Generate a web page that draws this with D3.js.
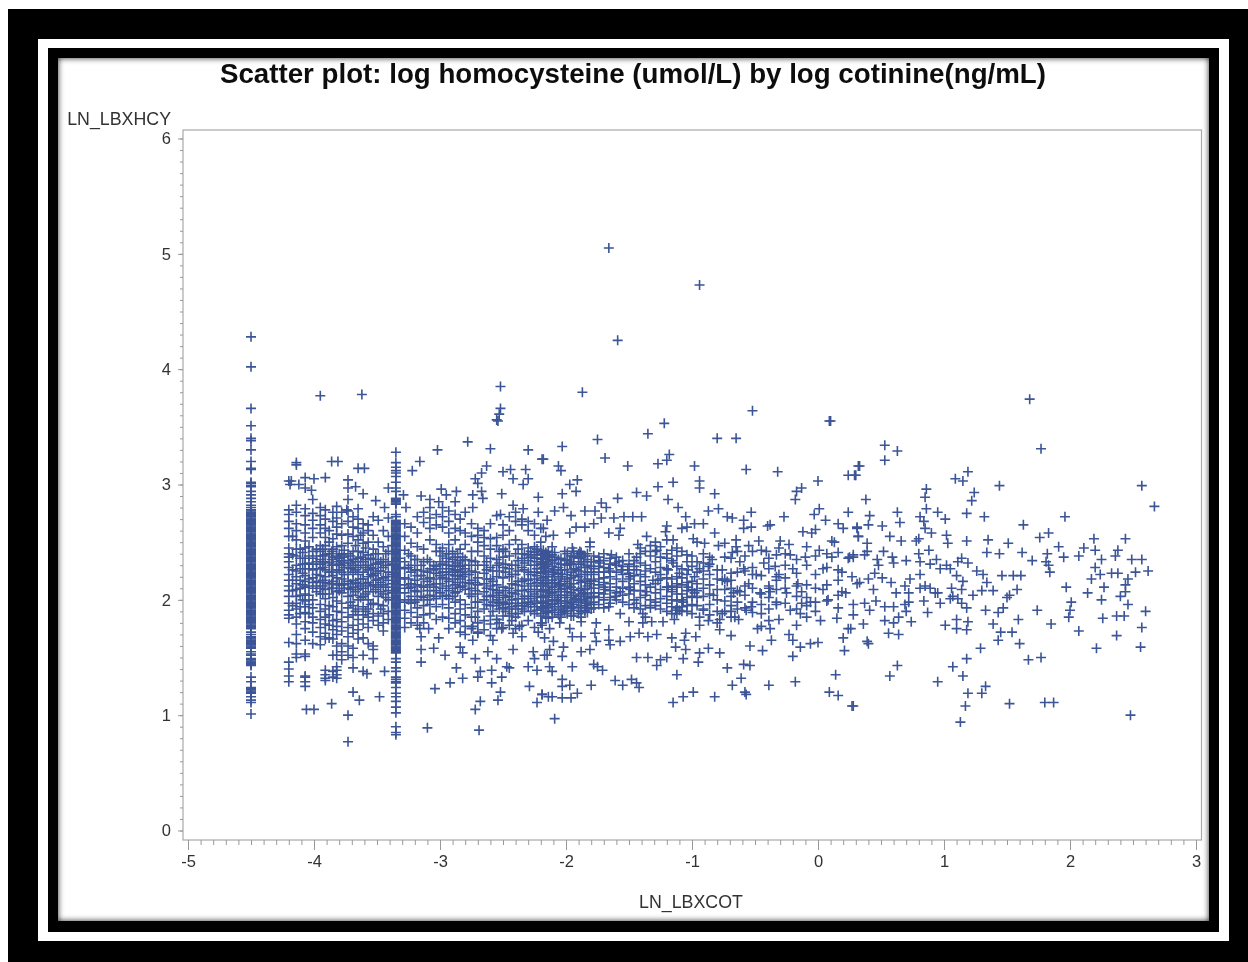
<!DOCTYPE html>
<html>
<head>
<meta charset="utf-8">
<script src="https://cdn.jsdelivr.net/npm/d3@7"></script>
<style>
  body { margin: 0; background: #fff; }
  svg { display: block; }
  text { font-family: "Liberation Sans", Arial, sans-serif; }
</style>
</head>
<body>
<div id="scatter"></div>
<script>
// chart text
var chartTitle = "Scatter plot: log homocysteine (umol/L) by log cotinine(ng/mL)";
var xLabel = "LN_LBXCOT";
var yLabel = "LN_LBXHCY";
var xTicks = [-5, -4, -3, -2, -1, 0, 1, 2, 3];
var yTicks = [0, 1, 2, 3, 4, 5, 6];

// the two columns of non detects
var stripOneX = -4.5;
var stripOneY = [4.28,4.02,3.66,3.51,3.40,3.38,3.30,3.20,3.14,3.13,3.02,3.01,2.99,2.98,2.94,2.91,2.88,2.85,2.82,2.80,2.78,
  2.77,2.76,2.75,2.74,2.73,2.72,2.71,2.70,2.69,2.68,2.67,2.66,2.65,2.64,2.63,2.62,2.61,2.60,2.59,2.58,2.57,2.56,2.55,2.54,2.53,2.52,2.51,2.50,
  2.49,2.48,2.47,2.46,2.45,2.44,2.43,2.42,2.41,2.40,2.39,2.38,2.37,2.36,2.35,2.34,2.33,2.32,2.31,2.30,2.29,2.28,2.27,2.26,2.25,2.24,2.23,2.22,
  2.21,2.20,2.19,2.18,2.17,2.16,2.15,2.14,2.13,2.12,2.11,2.10,2.09,2.08,2.07,2.06,2.05,2.04,2.03,2.02,2.01,2.00,1.99,1.98,1.97,1.96,1.95,1.94,
  1.93,1.92,1.91,1.90,1.89,1.88,1.87,1.86,1.85,1.84,1.83,1.82,1.81,1.80,1.79,1.78,1.77,1.76,1.75,1.72,1.70,1.68,1.67,1.66,1.65,1.64,1.63,1.62,
  1.61,1.60,1.59,1.58,1.55,1.53,1.52,1.49,1.48,1.47,1.46,1.45,1.44,1.43,1.33,1.29,1.24,1.23,1.22,1.21,1.20,1.19,1.16,1.13,1.11,1.01];

var stripTwoX = -3.35;
var stripTwoY = [3.28,3.19,3.15,3.12,3.10,3.07,3.02,2.97,2.94,2.88,2.87,2.86,2.85,2.84,2.83,2.74,2.72,
  2.69,2.68,2.67,2.66,2.65,2.64,2.63,2.62,2.61,2.60,2.59,2.58,2.57,2.56,2.55,2.54,2.53,2.52,2.51,2.50,2.49,2.48,2.47,2.46,2.45,2.44,2.43,2.42,
  2.41,2.40,2.39,2.38,2.37,2.36,2.35,2.34,2.33,2.32,2.31,2.30,2.29,2.28,2.27,2.26,2.25,2.24,2.23,2.22,2.21,2.20,2.19,2.18,2.17,2.16,2.15,2.14,
  2.13,2.12,2.11,2.10,2.09,2.08,2.07,2.06,2.05,2.04,2.03,2.02,2.01,2.00,1.99,1.98,1.97,1.96,1.95,1.94,1.93,1.92,1.91,1.90,1.89,1.88,1.87,1.86,
  1.85,1.84,1.83,1.82,1.81,1.80,1.79,1.78,1.77,1.76,1.75,1.74,1.73,1.72,1.71,1.70,1.69,1.68,1.67,1.66,1.65,1.64,1.63,1.62,1.61,1.60,1.59,1.58,
  1.57,1.56,1.55,1.54,1.49,1.46,1.41,1.38,1.33,1.31,1.29,1.28,1.24,1.19,1.16,1.12,1.07,1.02,0.90,0.85,0.83];

// dense part of the cloud, one x value with the y values seen near it
var denseX = [-4.20,-4.17,-4.14,-4.07,-4.04,-4.01,-3.95,-3.91,-3.88,-3.85,-3.82,-3.78,-3.73,-3.69,-3.65,-3.61,-3.57,-3.53,-3.49,-3.45,-3.41,
  -3.28,-3.23,-3.18,-3.13,-3.08,-3.03,-2.98,-2.93,-2.88,-2.84,-2.80,-2.75,-2.70,-2.65,-2.60,-2.55,-2.50,-2.45,-2.40,-2.35,-2.30,-2.25,-2.20,-2.16,
  -2.11,-2.06,-2.01,-1.96,-1.90,-1.85,-1.80];
var denseY = [
  [3.03,2.78,2.74,2.68,2.62,2.55,2.45,2.40,2.37,2.33,2.28,2.22,2.17,2.12,2.08,2.03,1.97,1.91,1.87,1.84,1.63,1.46,1.40,1.34,1.29],
  [2.55,2.39,2.26,2.17,2.08,1.95],
  [2.82,2.76,2.66,2.60,2.52,2.44,2.38,2.30,2.25,2.20,2.14,2.09,2.03,1.97,1.92,1.85,1.79,1.70,1.62,1.53],
  [3.06,2.79,2.73,2.65,2.58,2.51,2.45,2.36,2.31,2.27,2.21,2.16,2.11,2.05,1.99,1.94,1.89,1.81,1.75,1.65,1.53,1.34,1.29],
  [2.46,2.38,2.32,2.27,2.18,2.12,2.04,1.96,1.88],
  [2.87,2.75,2.69,2.62,2.54,2.42,2.36,2.31,2.26,2.19,2.15,2.10,2.00,1.93,1.85,1.80,1.72,1.62],
  [2.80,2.73,2.65,2.58,2.47,2.42,2.35,2.31,2.27,2.21,2.15,2.10,2.05,1.96,1.90,1.83,1.76,1.68,1.61],
  [2.78,2.70,2.62,2.54,2.47,2.39,2.33,2.26,2.20,2.15,2.09,2.01,1.92,1.85,1.79,1.71,1.66,1.35,1.32],
  [2.60,2.50,2.40,2.32,2.24,2.14,2.05,1.95,1.87,1.78,1.67],
  [2.76,2.68,2.53,2.44,2.37,2.30,2.21,2.16,2.10,2.02,1.94,1.82,1.74,1.66,1.52,1.38,1.33],
  [2.81,2.71,2.63,2.57,2.46,2.38,2.33,2.26,2.19,2.14,2.07,1.99,1.90,1.83,1.77,1.70,1.60,1.52,1.42,1.35],
  [2.76,2.66,2.56,2.47,2.39,2.34,2.30,2.24,2.18,2.13,2.06,1.97,1.89,1.81,1.73,1.62,1.55,1.48],
  [2.87,2.77,2.68,2.57,2.49,2.40,2.34,2.28,2.22,2.16,2.10,2.03,1.93,1.85,1.76,1.68,1.60,1.52],
  [2.72,2.63,2.55,2.42,2.35,2.30,2.24,2.17,2.11,2.04,1.95,1.87,1.78,1.71,1.58,1.50],
  [2.79,2.70,2.62,2.52,2.42,2.36,2.28,2.22,2.14,2.09,2.00,1.92,1.83,1.74,1.66],
  [2.66,2.58,2.49,2.41,2.33,2.24,2.18,2.10,2.03,1.94,1.87,1.79,1.67,1.52,1.38],
  [2.65,2.60,2.50,2.39,2.30,2.26,2.20,2.15,2.07,2.00,1.92,1.85,1.76,1.62],
  [2.72,2.56,2.44,2.35,2.27,2.21,2.13,2.07,1.97,1.88,1.82,1.60,1.57],
  [2.69,2.50,2.40,2.32,2.25,2.18,2.11,2.03,1.96,1.86,1.78],
  [2.60,2.46,2.35,2.28,2.19,2.13,2.05,1.95,1.88,1.80,1.73],
  [2.97,2.71,2.55,2.42,2.33,2.24,2.17,2.08,2.00,1.90,1.83],
  [2.66,2.55,2.43,2.33,2.27,2.19,2.13,2.06,1.98,1.91,1.84,1.76],
  [2.63,2.49,2.38,2.30,2.24,2.14,2.11,2.03,1.97,1.89,1.80],
  [2.72,2.58,2.46,2.35,2.26,2.21,2.13,2.07,2.00,1.93,1.85,1.78],
  [2.76,2.67,2.44,2.33,2.25,2.18,2.11,2.02,1.95,1.87,1.80],
  [2.80,2.71,2.62,2.52,2.33,2.27,2.19,2.13,2.04,1.96,1.88],
  [2.74,2.65,2.48,2.42,2.29,2.23,2.14,2.08,2.01,1.94,1.83],
  [2.80,2.72,2.63,2.45,2.38,2.31,2.24,2.19,2.10,2.03,1.96,1.85],
  [2.77,2.68,2.58,2.48,2.40,2.33,2.27,2.22,2.16,2.08,2.01,1.93,1.84,1.75],
  [2.74,2.62,2.52,2.37,2.30,2.26,2.21,2.13,2.06,1.98,1.88,1.80],
  [2.70,2.60,2.44,2.34,2.29,2.24,2.18,2.11,2.00,1.92,1.82,1.72],
  [2.76,2.58,2.48,2.35,2.27,2.22,2.15,2.09,1.96,1.87,1.77,1.70],
  [2.66,2.55,2.42,2.34,2.25,2.17,2.10,2.03,1.93,1.85,1.75],
  [2.62,2.56,2.50,2.42,2.30,2.19,2.13,2.05,1.98,1.90,1.80,1.72],
  [2.60,2.54,2.47,2.38,2.30,2.23,2.14,2.07,2.00,1.92,1.82,1.74],
  [2.66,2.53,2.44,2.36,2.28,2.18,2.12,2.03,1.95,1.86,1.79,1.69],
  [2.73,2.54,2.47,2.35,2.30,2.20,2.13,2.08,2.00,1.95,1.83,1.75],
  [2.65,2.56,2.44,2.37,2.28,2.19,2.11,2.04,1.98,1.93,1.86,1.76],
  [2.72,2.60,2.48,2.38,2.27,2.20,2.10,2.03,1.97,1.92,1.86,1.78],
  [2.76,2.68,2.52,2.40,2.30,2.22,2.13,2.05,1.97,1.92,1.85,1.75],
  [2.70,2.65,2.48,2.40,2.36,2.28,2.16,2.08,2.01,1.95,1.92,1.78],
  [2.68,2.60,2.45,2.39,2.34,2.24,2.17,2.09,2.03,1.98,1.94,1.82],
  [2.66,2.56,2.46,2.41,2.36,2.30,2.24,2.18,2.12,2.05,1.99,1.94,1.88,1.76],
  [2.62,2.50,2.42,2.39,2.35,2.31,2.27,2.23,2.17,2.12,2.07,2.02,1.97,1.92,1.86,1.80],
  [2.55,2.41,2.37,2.33,2.29,2.25,2.20,2.15,2.09,2.04,1.99,1.95,1.90,1.85],
  [2.46,2.39,2.34,2.29,2.22,2.17,2.11,2.06,2.00,1.96,1.91,1.85],
  [2.35,2.28,2.23,2.18,2.12,2.07,2.02,1.97,1.92,1.87],
  [2.42,2.34,2.26,2.16,2.10,2.04,1.99,1.95,1.90],
  [2.38,2.31,2.24,2.19,2.11,2.06,2.02,1.98,1.93,1.86],
  [2.40,2.36,2.31,2.25,2.17,2.08,2.03,1.98,1.93,1.88],
  [2.38,2.28,2.22,2.16,2.09,2.03,1.99,1.95,1.91],
  [2.33,2.24,2.17,2.10,2.02,1.96,1.92]
];

// second pass over the dark band of the cloud, left to right
var bandX = [-4.11,-4.09,-3.98,-3.93,-3.86,-3.80,-3.76,-3.71,-3.67,-3.63,-3.59,-3.55,-3.51,-3.47,-3.43,-3.38,-3.32,-3.25,-3.20,-3.15,-3.10,-3.05,
  -3.00,-2.95,-2.90,-2.86,-2.82,-2.77,-2.72,-2.63,-2.58,-2.53,-2.48,-2.43,-2.38,-2.33,-2.28,-2.23];
var bandY = [
  [2.44,2.36,2.27,2.17,2.10,2.04,1.94,1.88],[2.41,2.31,2.23,2.13,2.00],[2.44,2.38,2.33,2.27,2.22,2.16,2.12,2.07],[2.44,2.38,2.33,2.28,2.17,2.12,2.05],
  [2.42,2.35,2.30,2.24,2.14,2.10],[2.40,2.36,2.31,2.26,2.13,2.08],[2.43,2.37,2.32,2.28,2.22,2.14,2.10],[2.38,2.32,2.27,2.14,2.09,1.98],
  [2.47,2.33,2.26,2.15,2.07,1.90],[2.56,2.37,2.30,2.18,2.12,2.02],[2.45,2.35,2.28,2.14,2.05,1.90],[2.36,2.28,2.22,2.12,1.96],
  [2.40,2.31,2.23,2.17,2.09],[2.33,2.25,2.15,2.07,1.92],[2.40,2.30,2.20,2.11,2.02],[2.47,2.31,2.22,2.14,2.06],[2.36,2.28,2.18,2.10,2.00],
  [2.40,2.28,2.18,2.10,2.00],[2.35,2.26,2.17,2.08,1.98],[2.30,2.21,2.12,2.03],[2.35,2.24,2.16,2.08,2.00],[2.30,2.26,2.18,2.11,2.03],
  [2.42,2.33,2.27,2.21,2.14,2.06],[2.40,2.36,2.30,2.24,2.18,2.12,2.04],[2.42,2.35,2.29,2.24,2.18,2.10,2.03],[2.40,2.32,2.26,2.21,2.15,2.07],
  [2.37,2.30,2.24,2.20,2.12],[2.30,2.22,2.14,2.05],[2.33,2.24,2.15,2.08,1.98,1.85],[2.33,2.26,2.18,2.10,2.03,1.96],[2.25,2.16,2.09,2.04,1.98,1.90],
  [2.42,2.32,2.25,2.06,2.02,1.97,1.92,1.80],[2.42,2.31,2.24,2.08,2.02,1.96,1.90],[2.30,2.22,2.14,2.06,2.00,1.94,1.88,1.82],
  [2.44,2.34,2.25,2.16,2.08,2.01,1.95,1.88],[2.40,2.32,2.26,2.18,2.12,2.03,1.97,1.90],[2.42,2.37,2.30,2.22,2.14,2.07,2.01,1.96,1.90],
  [2.44,2.39,2.33,2.27,2.21,2.15,2.09,2.03,1.97,1.91]
];

// same again for the middle, where the band thins out towards x = 0
var coreX = [-2.18,-2.14,-2.09,-2.04,-1.99,-1.94,-1.88,-1.83,-1.78,-1.74,-1.70,-1.65,-1.60,-1.55,-1.50,-1.46,-1.41,-1.37,-1.33,-1.29,-1.25,-1.20,-1.16,-1.12,
  -1.08,-1.04,-1.00,-0.96,-0.91,-0.86,-0.80,-0.74,-0.69,-0.64,-0.58,-0.52,-0.45,-0.39,-0.33,-0.26,-0.17,-0.09,-0.02,0.07,0.16];
var coreY = [
  [2.43,2.40,2.36,2.32,2.28,2.24,2.19,2.14,2.08,2.03,1.98,1.93,1.88],[2.42,2.38,2.35,2.31,2.27,2.22,2.17,2.12,2.07,2.02,1.97,1.93,1.89,1.84],
  [2.41,2.37,2.32,2.26,2.20,2.15,2.09,2.04,1.99,1.94,1.89],[2.36,2.31,2.26,2.20,2.14,2.09,2.04,1.99,1.94,1.89,1.85],
  [2.40,2.35,2.30,2.22,2.18,2.12,2.07,2.02,1.97,1.93,1.88],[2.42,2.38,2.33,2.27,2.21,2.14,2.09,2.04,2.00,1.96,1.91,1.86],
  [2.41,2.37,2.33,2.28,2.22,2.15,2.10,2.05,2.00,1.95,1.90,1.85],[2.40,2.35,2.30,2.24,2.18,2.12,2.05,2.01,1.97,1.93,1.89],
  [2.38,2.33,2.27,2.22,2.16,2.10,2.03,1.98,1.93],[2.34,2.29,2.24,2.18,2.13,2.06,2.02,1.96],[2.40,2.34,2.28,2.24,2.15,2.11,2.05,2.00,1.93],
  [2.36,2.31,2.25,2.20,2.14,2.08,2.02,1.97],[2.37,2.30,2.24,2.18,2.11,2.06,2.00],[2.34,2.29,2.22,2.16,2.10,2.04,1.98],[2.40,2.31,2.23,2.18,2.11,2.05,1.96],
  [2.34,2.29,2.21,2.14,2.08,2.00,1.93],[2.45,2.32,2.22,2.16,2.08,2.02,1.92],[2.42,2.30,2.25,2.13,2.04,1.95,1.85],[2.47,2.38,2.27,2.11,2.00,1.93],
  [2.50,2.42,2.33,2.24,2.14,2.06,1.95],[2.46,2.37,2.28,2.18,2.09,2.01,1.92],[2.52,2.36,2.27,2.19,2.11,2.03,1.97,1.90],[2.43,2.34,2.18,2.12,2.07,2.00,1.94,1.88],
  [2.38,2.29,2.20,2.11,2.05,1.99,1.93,1.88],[2.42,2.27,2.19,2.13,2.05,2.00,1.94,1.90],[2.33,2.22,2.15,2.08,2.02,1.95,1.90],[2.38,2.29,2.16,2.09,2.03,1.96,1.88],
  [2.33,2.24,2.14,2.08,2.02,1.95],[2.40,2.25,2.18,2.10,2.03,1.92],[2.31,2.22,2.13,2.05,1.96,1.87],[2.26,2.18,2.09,2.00,1.90,1.80],[2.37,2.18,2.09,1.99,1.90],
  [2.36,2.17,2.10,2.03,1.95,1.85],[2.42,2.24,2.08,1.98,1.92],[2.38,2.25,2.12,2.04,1.93],[2.42,2.28,2.22,2.10,1.98,1.89],[2.43,2.21,2.05,1.96,1.88,1.77],
  [2.36,2.27,2.12,2.02,1.92,1.82],[2.39,2.20,2.17,2.09,1.98],[2.40,2.30,2.19,2.10,1.97],[2.35,2.23,2.12,2.03,1.92],[2.30,2.13,2.02,1.95,1.85],
  [2.38,2.22,2.10,1.98,1.90],[2.40,2.28,2.13,1.99],[2.41,2.26,2.17,2.04,1.93]
];

// single points: far outliers and the low scatter on the left
var outliers = [[-1.66,5.05],[-0.94,4.73],[-1.59,4.25],[-3.95,3.77],[-3.62,3.78],[-2.52,3.85],[-1.87,3.80],[1.68,3.74],[-0.52,3.64],[0.10,3.55],
  [-2.52,3.66],[-2.53,3.61],[-2.55,3.56]];
var leftSparse = [[-4.14,3.19],[-4.14,3.17],[-3.86,3.20],[-3.81,3.20],[-3.65,3.14],[-3.60,3.14],[-3.91,3.06],[-4.00,3.05],[-4.18,3.03],[-4.19,3.00],
  [-4.12,3.00],[-4.07,2.97],[-4.02,2.95],[-3.73,3.04],[-3.73,2.97],[-3.67,2.98],[-3.61,2.92],[-3.51,2.86],[-3.44,2.80],[-3.74,2.78],
  [-4.06,1.05],[-4.00,1.05],[-3.86,1.10],[-3.73,1.00],[-3.73,0.77],[-3.69,1.20],[-3.64,1.13],[-3.48,1.16],[-3.58,1.36],[-3.44,1.38],
  [-4.07,1.33],[-4.07,1.25],[-3.91,1.39],[-3.91,1.30],[-3.82,1.39],[-3.82,1.32],[-3.69,1.41],[-4.07,1.51],[-4.14,1.50],[-3.53,1.49]];
var midLeftSparse = [[-2.78,3.37],[-2.60,3.31],[-2.30,3.30],[-3.02,3.30],[-2.19,3.22],[-2.54,3.55],[-3.16,3.20],[-3.22,3.12],[-2.63,3.16],[-2.67,3.10],
  [-2.72,3.05],[-2.70,3.01],[-2.50,3.11],[-2.44,3.13],[-2.42,3.05],[-2.32,3.13],[-2.30,3.05],[-2.34,3.00],[-2.51,2.92],[-2.67,2.94],
  [-2.66,2.88],[-2.74,2.91],[-2.74,2.80],[-2.22,2.89],[-2.87,2.94],[-2.99,2.96],[-2.95,2.91],[-2.88,2.85],[-3.15,2.90],[-3.08,2.87],
  [-3.01,2.85],[-3.27,2.80],[-3.29,2.91],[-2.42,2.82],[-2.34,2.79],[-2.22,2.76],[-2.52,2.74],
  [-3.10,0.89],[-2.69,0.87],[-3.04,1.23],[-2.92,1.28],[-2.82,1.32],[-2.70,1.33],[-2.59,1.28],[-2.52,1.20],[-2.54,1.13],[-2.68,1.12],
  [-2.72,1.05],[-2.29,1.25],[-2.19,1.18],[-2.23,1.11],[-2.14,1.16],[-3.15,1.57],[-3.15,1.46],[-3.05,1.58],[-2.96,1.52],[-2.87,1.41],
  [-2.72,1.49],[-2.55,1.49],[-2.62,1.55],[-2.42,1.57],[-2.45,1.41],[-2.47,1.42],[-2.30,1.42],[-2.23,1.39],[-2.59,1.39],[-2.68,1.38],
  [-2.51,1.33],[-2.26,1.55],[-2.15,1.52],[-2.25,1.49],[-2.82,1.54],[-2.84,1.59],[-3.01,1.67],[-3.16,1.75],[-3.09,1.75],[-3.15,1.68],
  [-2.74,1.77],[-2.70,1.71],[-2.74,1.65],[-2.58,1.65],[-2.42,1.71],[-2.37,1.77],[-2.22,1.72],[-2.19,1.78],[-2.35,1.68],[-2.17,1.67],
  [-2.51,1.75],[-2.55,1.83]];

// middle of the x range
var midUpper = [[-1.22,3.53],[0.09,3.55],[-1.35,3.44],[-0.80,3.40],[-0.65,3.40],[-1.75,3.39],[-2.03,3.33],[-1.69,3.23],[-2.18,3.22],[-1.18,3.26],
  [-1.20,3.21],[-1.27,3.18],[-1.51,3.16],[-0.98,3.16],[-0.57,3.13],[-0.32,3.11],[-2.06,3.16],[-2.04,3.12],[0.24,3.08],[0.30,3.08],[0.32,3.16],
  [-1.91,3.04],[-1.97,3.00],[-1.92,2.94],[-2.03,2.92],[-1.27,2.98],[-1.15,3.02],[-0.94,3.03],[-0.94,2.97],[-0.82,2.92],[0.00,3.03],[-0.13,2.97],
  [-0.17,2.94],[-0.18,2.87],[-1.44,2.93],[-1.36,2.90],[-1.59,2.88],[-1.19,2.87],[-1.11,2.80],[-1.72,2.84],[-1.68,2.80],[-2.02,2.80],[-2.09,2.77],
  [-1.85,2.77],[-1.77,2.77],[-1.96,2.73],[-1.72,2.71],[-1.54,2.72],[-1.47,2.72],[-1.40,2.72],[-1.62,2.71],[-2.15,2.69],[-0.87,2.77],[-0.79,2.79],
  [-0.53,2.76],[-0.72,2.72],[-0.68,2.71],[-0.59,2.69],[-0.27,2.72],[0.01,2.79],[-0.03,2.74],[0.06,2.69],[0.24,2.76],[0.16,2.66],[0.20,2.62],
  [0.31,2.62],[0.32,2.55],[-1.05,2.72],[-0.98,2.66],[-0.91,2.66],[-1.04,2.63],[-1.08,2.62],[-1.20,2.64],[-1.21,2.59],[-0.82,2.58],[-0.59,2.62],
  [-0.53,2.63],[-0.40,2.64],[-0.38,2.65],[-0.12,2.59],[-0.05,2.58],[-0.02,2.61],[-1.92,2.63],[-1.85,2.63],[-1.78,2.66],[-1.97,2.58],[-2.10,2.56],
  [-2.18,2.62],[-1.57,2.62],[-1.36,2.55],[-1.58,2.56],[-1.66,2.58]];
var midCore = [[-1.15,2.52],[-0.99,2.53],[-0.96,2.50],[-0.90,2.49],[-0.65,2.52],[-0.74,2.49],[-0.79,2.47],[-0.47,2.51],[-0.55,2.47],[-0.65,2.46],
  [-0.68,2.41],[-0.30,2.51],[-0.23,2.48],[-0.41,2.42],[-0.31,2.45],[-0.09,2.46],[0.01,2.43],[0.11,2.51],[0.13,2.50],[0.28,2.39],[0.24,2.36],
  [0.11,2.37],[-0.10,2.37],[-0.22,2.39],[-0.62,2.33],[-0.86,2.37],[-0.84,2.35],[-0.91,2.32],[-1.04,2.39],[-1.12,2.45],[-1.20,2.40],[-1.28,2.43],
  [-1.43,2.48],[-1.44,2.37],[-1.81,2.50],[-1.81,2.46],[-1.89,2.42],[-1.88,2.39],[-1.95,2.45],[-1.94,2.37],[-2.15,2.39],[-2.19,2.36],[-2.13,2.37],
  [-1.74,2.37],[-1.64,2.39],[-1.58,2.33],[-1.51,2.26],[-1.41,2.40],[-2.17,2.29],[-2.10,2.24],[-2.03,2.22],[-1.97,2.32],[-1.92,2.26],[-1.86,2.33],
  [-1.80,2.29],[-1.73,2.32],[-1.66,2.27],[-1.61,2.32],[-1.56,2.26],[-1.49,2.20],[-1.44,2.26],[-1.37,2.20],[-1.31,2.17],[-1.25,2.22],[-1.19,2.26],
  [-1.15,2.32],[-1.10,2.23],[-1.03,2.26],[-0.98,2.20],[-0.94,2.27],[-0.87,2.29],[-0.76,2.26],[-0.69,2.23],[-0.59,2.27],[-0.49,2.22],[-0.43,2.32],
  [-0.34,2.29],[-0.31,2.22],[-0.20,2.27],[-0.16,2.14],[0.04,2.27],[0.19,2.24],[0.31,2.14],[-0.76,2.17],[-0.72,2.16],[-0.62,2.07],[-0.67,2.06],
  [-0.39,2.10],[-0.38,2.07],[-0.46,2.06],[-0.55,2.14],[-0.25,2.06],[-0.13,2.07],[0.04,2.09],[0.19,2.07],[0.22,2.06],[0.08,2.00],[-0.13,1.97],
  [-0.06,1.98],[-0.22,1.91],[-0.14,1.88],[-0.33,1.96],[-0.53,1.94],[-0.57,1.91],[-0.69,1.90],[-0.76,1.88],[-0.83,2.04],[-0.91,1.91],[-1.10,1.91],
  [-1.07,1.98],[-0.98,2.06],[-1.16,2.09],[-1.12,2.14],[-1.27,2.17],[-1.29,1.98],[-1.44,1.97],[-1.36,2.07],[-1.49,2.09],[-1.57,2.07],[-1.61,2.03],
  [-1.66,1.94],[-1.57,1.88],[-1.81,2.14],[-1.78,2.06],[-1.86,2.06],[-1.92,2.01],[-1.84,1.97],[-1.95,1.94],[-2.02,1.91],[-2.07,2.00],[-2.13,2.06],
  [-2.18,2.14],[-2.11,2.14],[-2.05,2.13],[-1.97,2.14],[-1.90,2.20],[-1.85,1.90],[-2.18,1.94],[-2.14,1.90],[-1.69,2.09],[-1.70,2.19],[-1.03,2.11],
  [-1.13,1.91],[-1.19,2.11],[-1.39,1.88]];
var midLower = [[-2.19,1.80],[-2.13,1.75],[-2.05,1.80],[-1.97,1.75],[-1.88,1.81],[-1.76,1.80],[-1.66,1.74],[-1.77,1.71],[-1.88,1.68],[-1.95,1.68],
  [-2.10,1.64],[-2.02,1.59],[-2.13,1.57],[-2.17,1.52],[-2.03,1.51],[-1.88,1.55],[-1.81,1.57],[-1.76,1.64],[-1.66,1.65],[-1.65,1.61],[-1.57,1.64],
  [-1.49,1.68],[-1.42,1.71],[-1.35,1.68],[-1.28,1.70],[-1.50,1.81],[-1.39,1.80],[-1.32,1.81],[-1.23,1.81],[-1.14,1.83],[-0.94,1.85],[-0.94,1.78],
  [-0.87,1.82],[-0.78,1.74],[-0.78,1.83],[-0.66,1.85],[-0.63,1.83],[-0.69,1.69],[-0.48,1.75],[-0.38,1.75],[-0.31,1.83],[-0.17,1.78],[0.02,1.82],
  [0.15,1.84],[0.24,1.75],[-0.37,1.65],[-0.23,1.70],[-0.20,1.65],[-0.14,1.59],[-0.06,1.62],[0.00,1.63],[0.20,1.67],[0.21,1.56],[-0.20,1.51],
  [-0.54,1.60],[-0.44,1.56],[-0.78,1.54],[-0.87,1.58],[-1.05,1.71],[-0.97,1.68],[-1.16,1.67],[-1.06,1.65],[-1.13,1.59],[-1.05,1.57],[-1.07,1.49],
  [-0.94,1.54],[-0.95,1.46],[-1.44,1.50],[-1.35,1.50],[-1.20,1.50],[-1.25,1.48],[-1.28,1.43],[-1.95,1.42],[-2.13,1.42],[-2.11,1.38],[-1.78,1.44],
  [-1.75,1.42],[-1.71,1.39],[-1.80,1.26],[-2.03,1.31],[-2.03,1.25],[-1.97,1.26],[-1.91,1.19],[-2.03,1.15],[-2.11,1.16],[-2.19,1.18],[-1.96,1.15],
  [-2.09,0.97],[-1.61,1.30],[-1.55,1.26],[-1.48,1.31],[-1.44,1.28],[-1.42,1.24],[-1.12,1.35],[-1.15,1.11],[-1.07,1.16],[-0.99,1.20],[-0.82,1.16],
  [-0.68,1.26],[-0.61,1.32],[-0.72,1.41],[-0.59,1.44],[-0.54,1.43],[-0.58,1.20],[-0.57,1.18],[-0.39,1.26],[-0.18,1.29],[0.14,1.35],[0.09,1.20],
  [0.16,1.17],[0.27,1.08]];

// right hand side, sparse enough to read one by one
var rightSparse = [[0.53,3.34],[0.63,3.29],[0.53,3.21],[0.33,3.16],[0.29,3.08],[1.19,3.11],[1.09,3.05],[1.15,3.03],[1.77,3.31],[1.44,2.99],[2.57,2.99],
  [2.67,2.81],[0.86,2.96],[0.85,2.89],[1.24,2.93],[1.22,2.86],[0.38,2.87],[0.86,2.79],[0.95,2.76],[1.01,2.70],[1.18,2.75],[1.32,2.72],[0.63,2.76],
  [0.65,2.67],[0.41,2.73],[0.40,2.65],[0.51,2.64],[0.81,2.72],[0.84,2.68],[0.85,2.62],[0.90,2.58],[1.63,2.65],[1.96,2.72],[0.31,2.63],[0.32,2.55],
  [0.57,2.55],[0.66,2.51],[0.80,2.53],[0.78,2.51],[1.02,2.56],[1.03,2.49],[1.18,2.51],[1.35,2.52],[1.51,2.49],[1.83,2.58],[1.76,2.54],[1.91,2.46],
  [2.19,2.53],[2.44,2.53],[2.11,2.45],[2.20,2.43],[2.38,2.43],[2.36,2.38],[1.34,2.41],[1.44,2.40],[1.62,2.41],[1.70,2.34],[1.82,2.40],[1.81,2.33],
  [1.83,2.30],[1.84,2.24],[1.95,2.37],[2.07,2.38],[2.25,2.35],[2.49,2.35],[2.57,2.35],[2.20,2.28],[2.24,2.22],[2.33,2.23],[2.38,2.23],[2.52,2.24],
  [2.62,2.25],[2.17,2.18],[2.46,2.18],[1.97,2.11],[2.27,2.11],[2.44,2.13],[2.44,2.07],[2.14,2.06],[2.25,2.00],[2.40,2.03],[2.46,1.96],[2.01,1.98],
  [2.00,1.91],[1.99,1.85],[1.74,1.91],[1.85,1.79],[2.07,1.73],[2.26,1.84],[2.37,1.86],[2.43,1.86],[2.60,1.90],[2.57,1.76],[2.37,1.69],[2.21,1.58],
  [2.56,1.59],[2.48,1.00],[1.77,1.50],[1.67,1.48],[1.60,1.62],[1.54,1.72],[1.45,1.72],[1.43,1.65],[1.59,1.83],[1.39,1.79],[1.29,1.58],[1.18,1.49],
  [1.33,1.91],[1.43,1.89],[1.47,1.93],[1.58,2.09],[1.52,2.04],[1.50,2.02],[1.39,2.08],[1.30,2.08],[1.23,2.04],[1.46,2.21],[1.55,2.21],[1.61,2.21],
  [1.34,2.15],[1.31,2.22],[1.26,2.25],[1.52,1.10],[1.80,1.11],[1.87,1.11],[1.33,1.25],[1.30,1.19],[1.19,1.19],[1.17,1.08],[1.13,0.94],[1.15,1.34],
  [1.07,1.42],[0.95,1.29],[0.63,1.43],[0.57,1.34],[0.28,1.08],[0.40,1.62],[0.39,1.64],[1.01,1.78],[1.10,1.83],[1.10,1.75],[1.18,1.74],[1.19,1.81],
  [0.87,1.89],[0.74,1.81],[0.64,1.85],[0.60,1.80],[0.56,1.71],[0.64,1.70],[0.53,1.82],[0.36,1.79]];
var rightCluster = [[1.14,2.36],[1.11,2.33],[1.19,2.32],[0.89,2.31],[0.97,2.27],[1.02,2.30],[1.05,2.27],[1.10,2.21],[1.15,2.16],[1.14,2.09],[1.06,2.10],
  [1.07,2.03],[1.11,2.01],[1.14,1.97],[1.18,1.93],[1.05,2.01],[0.97,1.97],[0.93,2.06],[0.95,2.06],[0.89,2.10],[0.85,2.12],[0.81,2.10],[0.81,2.22],
  [0.73,2.18],[0.69,2.12],[0.72,2.06],[0.72,1.98],[0.70,1.90],[0.62,2.06],[0.58,2.15],[0.60,2.32],[0.59,2.37],[0.70,2.34],[0.80,2.40],[0.81,2.33],
  [0.88,2.43],[0.94,2.35],[0.52,2.42],[0.47,2.35],[0.48,2.30],[0.45,2.23],[0.51,2.19],[0.40,2.18],[0.33,2.15],[0.44,2.09],[0.46,1.99],[0.37,1.97],
  [0.41,1.91],[0.53,1.94],[0.60,1.94],[0.69,1.96],[0.84,1.99],[0.27,2.20],[0.28,1.96],[0.28,1.87],[0.26,1.75],[0.39,2.49],[0.39,2.42],[0.37,2.39],
  [0.28,2.37],[0.25,2.37]];

var markColor = "#3b5497";

var svg = d3.select("#scatter").append("svg")
  .attr("width", 1248)
  .attr("height", 962);

// filters and clip for the picture frame
var defs = svg.append("defs");
defs.append("filter").attr("id", "soft")
  .append("feGaussianBlur").attr("stdDeviation", 0.4);
defs.append("filter").attr("id", "shade")
  .attr("x", "-5%").attr("y", "-5%").attr("width", "110%").attr("height", "110%")
  .append("feGaussianBlur").attr("stdDeviation", 3);
defs.append("clipPath").attr("id", "panel")
  .append("rect").attr("x", 58).attr("y", 58).attr("width", 1151).attr("height", 863);

// nested frame: black, white, black, then the shaded white panel
svg.append("rect").attr("width", 1248).attr("height", 962).attr("fill", "#fff");
svg.append("rect").attr("x", 8).attr("y", 9).attr("width", 1240).attr("height", 953).attr("fill", "#000");
svg.append("rect").attr("x", 38).attr("y", 39).attr("width", 1191).attr("height", 902).attr("fill", "#fff");
svg.append("rect").attr("x", 48).attr("y", 48).attr("width", 1171).attr("height", 884).attr("fill", "#000");
svg.append("rect").attr("x", 58).attr("y", 58).attr("width", 1151).attr("height", 863).attr("fill", "#fff");
svg.append("g").attr("clip-path", "url(#panel)")
  .append("rect")
  .attr("x", 55).attr("y", 55).attr("width", 1157).attr("height", 869)
  .attr("fill", "none")
  .attr("stroke", "#000")
  .attr("stroke-width", 5)
  .attr("filter", "url(#shade)");

var chart = svg.append("g").attr("filter", "url(#soft)");

var xScale = d3.scaleLinear().domain([-5, 3]).range([188, 1196]);
var yScale = d3.scaleLinear().domain([0, 6]).range([830.5, 138.5]);

var frameLeft = 183, frameRight = 1201.5, frameTop = 130, frameBottom = 840;

chart.append("rect")
  .attr("x", frameLeft)
  .attr("y", frameTop)
  .attr("width", frameRight - frameLeft)
  .attr("height", frameBottom - frameTop)
  .attr("fill", "#fff")
  .attr("stroke", "#a9a9a9")
  .attr("stroke-width", 1.2);

// minor ticks, every 0.1
var xMinor = d3.range(-50, 31).map(d => d / 10);
var yMinor = d3.range(0, 61).map(d => d / 10);

chart.append("g")
  .attr("transform", `translate(0, ${frameBottom})`)
  .call(d3.axisBottom(xScale).tickValues(xMinor).tickSize(5).tickFormat(""))
  .call(g => g.select(".domain").remove());
chart.append("g")
  .attr("transform", `translate(${frameLeft}, 0)`)
  .call(d3.axisLeft(yScale).tickValues(yMinor).tickSize(3).tickFormat(""))
  .call(g => g.select(".domain").remove());

// major ticks with labels
var xAxis = chart.append("g")
  .attr("transform", `translate(0, ${frameBottom})`)
  .call(d3.axisBottom(xScale).tickValues(xTicks).tickSize(10).tickPadding(5).tickFormat(d3.format("d")))
  .call(g => g.select(".domain").remove());
var yAxis = chart.append("g")
  .attr("transform", `translate(${frameLeft}, 0)`)
  .call(d3.axisLeft(yScale).tickValues(yTicks).tickSize(5).tickPadding(7).tickFormat(d3.format("d")))
  .call(g => g.select(".domain").remove());

chart.selectAll(".tick line").attr("stroke", "#999").attr("stroke-width", 1);
xAxis.selectAll("text").attr("font-size", 16.5).attr("fill", "#333")
  .text(d => String(d).replace("\u2212", "-"));
yAxis.selectAll("text").attr("font-size", 16.5).attr("fill", "#333");

// flatten every group of values into one list of points
var points = [];
stripOneY.forEach(v => points.push([stripOneX, v]));
stripTwoY.forEach(v => points.push([stripTwoX, v]));
denseX.forEach((x, i) => denseY[i].forEach(v => points.push([x, v])));
bandX.forEach((x, i) => bandY[i].forEach(v => points.push([x, v])));
coreX.forEach((x, i) => coreY[i].forEach(v => points.push([x, v])));
[outliers, leftSparse, midLeftSparse, midUpper, midCore, midLower, rightSparse, rightCluster]
  .forEach(list => list.forEach(p => points.push(p)));

chart.append("g").selectAll("path")
  .data(points)
  .enter()
  .append("path")
  .attr("d", "M-5,0H5M0,-5V5")
  .attr("transform", d => `translate(${xScale(d[0])}, ${yScale(d[1])})`)
  .attr("fill", "none")
  .attr("stroke", markColor)
  .attr("stroke-width", 1.6);

// title and axis labels
chart.append("text")
  .attr("x", 633)
  .attr("y", 83)
  .attr("text-anchor", "middle")
  .attr("font-size", 27.7)
  .attr("font-weight", "bold")
  .attr("fill", "#111")
  .text(chartTitle);
chart.append("text")
  .attr("x", 691)
  .attr("y", 908)
  .attr("text-anchor", "middle")
  .attr("font-size", 17.8)
  .attr("fill", "#333")
  .text(xLabel);
chart.append("text")
  .attr("x", 171)
  .attr("y", 125)
  .attr("text-anchor", "end")
  .attr("font-size", 17.8)
  .attr("fill", "#333")
  .text(yLabel);
</script>
</body>
</html>
